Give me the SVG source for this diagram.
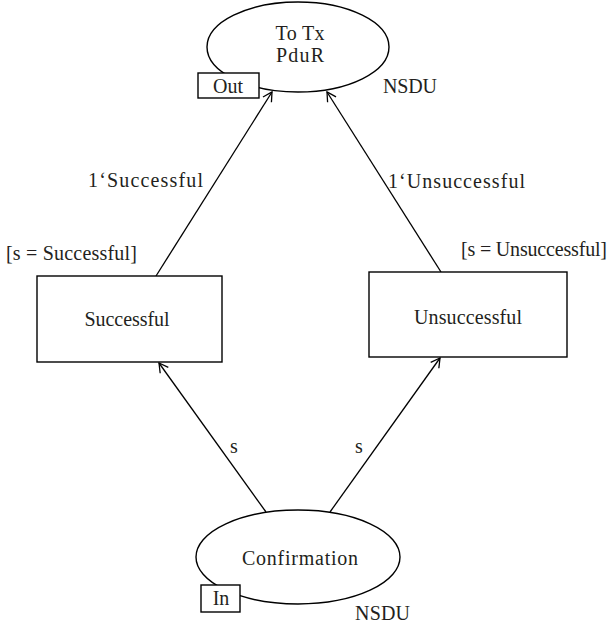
<svg xmlns="http://www.w3.org/2000/svg" width="611" height="628" viewBox="0 0 611 628">
<style>
.sh{fill:#fff;stroke:#000;stroke-width:1.4}
.t{font-family:"Liberation Serif","Times New Roman",serif;font-size:20px;fill:#231f20}
.m{text-anchor:middle}
.e{text-anchor:end}
.c{fill:none;stroke:#000;stroke-width:1.3}
</style>
<defs>
<marker id="ah" markerUnits="userSpaceOnUse" markerWidth="12" markerHeight="12" refX="10" refY="6" orient="auto">
<path d="M1,1 L10,6 L1,11" fill="none" stroke="#000" stroke-width="1.3"/>
</marker>
</defs>
<rect width="611" height="628" fill="#fff"/>
<g id="connectors">
<line class="c" x1="156" y1="276" x2="272" y2="92" marker-end="url(#ah)"/>
<line class="c" x1="441" y1="272" x2="327" y2="92" marker-end="url(#ah)"/>
<line class="c" x1="266" y1="512" x2="159" y2="363" marker-end="url(#ah)"/>
<line class="c" x1="330" y1="512" x2="440" y2="358" marker-end="url(#ah)"/>
<text class="t e" x="203" y="187" textLength="115">1‘Successful</text>
<text class="t" x="388" y="188" textLength="137">1‘Unsuccessful</text>
<text class="t m" x="234" y="453">s</text>
<text class="t m" x="359" y="453">s</text>
</g>
<g id="toTxPduR">
<ellipse class="sh" cx="298" cy="47" rx="91" ry="45"/>
<text class="t m" x="300" y="40" textLength="49">To Tx</text>
<text class="t m" x="300" y="62" textLength="48">PduR</text>
<rect class="sh" x="198" y="73" width="61" height="25"/>
<text class="t m" x="228" y="93">Out</text>
<text class="t" x="383" y="93" textLength="54">NSDU</text>
</g>
<g id="successful">
<rect class="sh" x="37" y="276" width="185" height="86"/>
<text class="t m" x="127" y="326" textLength="85">Successful</text>
<text class="t" x="6" y="260" textLength="131">[s = Successful]</text>
</g>
<g id="unsuccessful">
<rect class="sh" x="369" y="272" width="198" height="85"/>
<text class="t m" x="468" y="324" textLength="108">Unsuccessful</text>
<text class="t e" x="607" y="256" textLength="146">[s = Unsuccessful]</text>
</g>
<g id="confirmation">
<ellipse class="sh" cx="298" cy="557" rx="102" ry="47"/>
<text class="t m" x="300" y="565" textLength="116">Confirmation</text>
<rect class="sh" x="201" y="585" width="39" height="27"/>
<text class="t m" x="221" y="605">In</text>
<text class="t" x="355" y="620" textLength="55">NSDU</text>
</g>
</svg>
